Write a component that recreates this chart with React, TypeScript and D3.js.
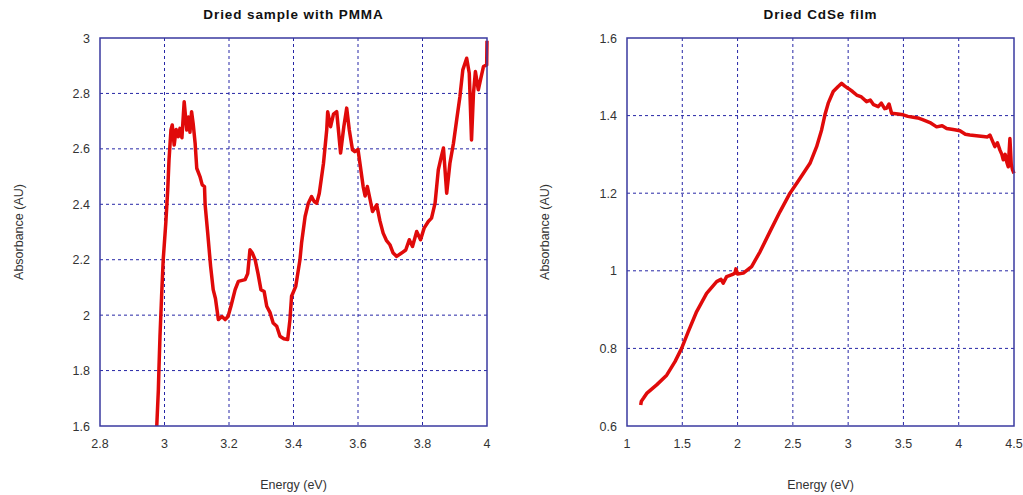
import * as d3 from "d3";
import { useEffect, useRef } from "react";

// Left panel: Dried sample with PMMA
const pmmaEnergy = [
  2.976, 2.981, 2.983, 2.986, 2.991, 2.996, 3.004, 3.010, 3.014, 3.020, 3.024, 3.030, 3.036, 3.043, 3.048,
  3.054, 3.061, 3.069, 3.074, 3.079, 3.084, 3.089, 3.095, 3.100, 3.110, 3.117, 3.124, 3.126, 3.134, 3.143,
  3.151, 3.158, 3.167, 3.178, 3.188, 3.197, 3.206, 3.219, 3.229, 3.25, 3.258, 3.265, 3.272, 3.281, 3.290,
  3.299, 3.309, 3.317, 3.327, 3.337, 3.348, 3.358, 3.370, 3.382, 3.389, 3.394, 3.407, 3.420, 3.425, 3.436,
  3.446, 3.456, 3.464, 3.472, 3.480, 3.493, 3.503, 3.506, 3.515, 3.524, 3.534, 3.546, 3.556, 3.565, 3.573,
  3.583, 3.590, 3.600, 3.606, 3.616, 3.622, 3.629, 3.637, 3.645, 3.658, 3.668, 3.678, 3.688, 3.699, 3.709,
  3.720, 3.735, 3.748, 3.759, 3.769, 3.782, 3.794, 3.805, 3.818, 3.828, 3.839, 3.849, 3.856, 3.865, 3.875,
  3.885, 3.896, 3.906, 3.916, 3.925, 3.937, 3.945, 3.952, 3.958, 3.964, 3.973, 3.981, 3.989, 3.999, 4.0,
];
const pmmaAbs = [
  1.60, 1.731, 1.815, 1.924, 2.068, 2.20, 2.332, 2.452, 2.56, 2.668, 2.686, 2.614, 2.670, 2.644, 2.674,
  2.640, 2.770, 2.668, 2.715, 2.660, 2.734, 2.690, 2.62, 2.53, 2.50, 2.47, 2.464, 2.398, 2.296, 2.176,
  2.092, 2.060, 1.984, 1.995, 1.984, 1.995, 2.032, 2.092, 2.122, 2.128, 2.150, 2.236, 2.225, 2.20, 2.150,
  2.092, 2.085, 2.032, 2.010, 1.972, 1.960, 1.924, 1.915, 1.912, 1.984, 2.068, 2.104, 2.20, 2.26, 2.356,
  2.404, 2.428, 2.41, 2.404, 2.44, 2.548, 2.668, 2.734, 2.68, 2.725, 2.734, 2.585, 2.680, 2.747, 2.668,
  2.596, 2.590, 2.598, 2.548, 2.464, 2.430, 2.464, 2.420, 2.374, 2.398, 2.340, 2.296, 2.270, 2.254, 2.224,
  2.212, 2.224, 2.235, 2.272, 2.248, 2.302, 2.272, 2.314, 2.338, 2.350, 2.404, 2.524, 2.560, 2.603, 2.44,
  2.548, 2.62, 2.705, 2.788, 2.885, 2.927, 2.873, 2.632, 2.80, 2.879, 2.813, 2.855, 2.897, 2.903, 2.99,
];

// Right panel: Dried CdSe film
const cdseEnergy = [
  1.124, 1.130, 1.150, 1.178, 1.268, 1.359, 1.434, 1.494, 1.554, 1.630, 1.720, 1.811, 1.850, 1.870, 1.901,
  1.950, 1.976, 1.985, 2.000, 2.052, 2.127, 2.203, 2.293, 2.383, 2.474, 2.564, 2.655, 2.715, 2.760, 2.790,
  2.820, 2.865, 2.910, 2.941, 2.970, 3.001, 3.040, 3.077, 3.120, 3.167, 3.200, 3.230, 3.272, 3.300, 3.330,
  3.348, 3.370, 3.393, 3.450, 3.498, 3.540, 3.589, 3.630, 3.679, 3.740, 3.800, 3.850, 3.891, 3.950, 4.011,
  4.060, 4.101, 4.160, 4.222, 4.260, 4.282, 4.300, 4.327, 4.350, 4.373, 4.390, 4.403, 4.420, 4.435, 4.448,
  4.463, 4.475, 4.487, 4.5,
];
const cdseAbs = [
  0.654, 0.664, 0.672, 0.684, 0.706, 0.731, 0.766, 0.80, 0.843, 0.895, 0.942, 0.972, 0.978, 0.968, 0.985,
  0.990, 0.994, 1.005, 0.992, 0.994, 1.011, 1.049, 1.101, 1.152, 1.20, 1.238, 1.277, 1.320, 1.363, 1.402,
  1.432, 1.462, 1.475, 1.483, 1.476, 1.470, 1.462, 1.453, 1.448, 1.436, 1.440, 1.428, 1.423, 1.432, 1.418,
  1.419, 1.430, 1.406, 1.404, 1.402, 1.398, 1.396, 1.394, 1.389, 1.382, 1.371, 1.374, 1.367, 1.364, 1.361,
  1.352, 1.350, 1.348, 1.346, 1.345, 1.350, 1.338, 1.320, 1.330, 1.311, 1.300, 1.286, 1.300, 1.280, 1.268,
  1.341, 1.275, 1.260, 1.251,
];

const pmmaXTicks = [2.8, 3, 3.2, 3.4, 3.6, 3.8, 4];
const pmmaYTicks = [1.6, 1.8, 2, 2.2, 2.4, 2.6, 2.8, 3];
const cdseXTicks = [1, 1.5, 2, 2.5, 3, 3.5, 4, 4.5];
const cdseYTicks = [0.6, 0.8, 1, 1.2, 1.4, 1.6];

const titles = ["Dried sample with PMMA", "Dried CdSe film"];
const xLabel = "Energy (eV)";
const yLabel = "Absorbance (AU)";

const width = 1023;
const height = 495;
const font = "'Liberation Sans', Arial, sans-serif";

interface PanelSpec {
  left: number;
  right: number;
  xDomain: [number, number];
  yDomain: [number, number];
  xTicks: number[];
  yTicks: number[];
  xs: number[];
  ys: number[];
  title: string;
  yLabelX: number;
  clipId: string;
}

const App = () => {
  const ref = useRef<SVGSVGElement>(null);

  useEffect(() => {
    if (!ref.current) return;
    const svg = d3.select(ref.current);
    svg.selectAll("*").remove();

    const top = 38;
    const bottom = 426;

    const panels: PanelSpec[] = [
      {
        left: 100, right: 487, xDomain: [2.8, 4], yDomain: [1.6, 3],
        xTicks: pmmaXTicks, yTicks: pmmaYTicks, xs: pmmaEnergy, ys: pmmaAbs,
        title: titles[0], yLabelX: 19, clipId: "clip-pmma",
      },
      {
        left: 627, right: 1014, xDomain: [1, 4.5], yDomain: [0.6, 1.6],
        xTicks: cdseXTicks, yTicks: cdseYTicks, xs: cdseEnergy, ys: cdseAbs,
        title: titles[1], yLabelX: 545, clipId: "clip-cdse",
      },
    ];

    panels.forEach((p) => {
      const x = d3.scaleLinear().domain(p.xDomain).range([p.left, p.right]);
      const y = d3.scaleLinear().domain(p.yDomain).range([bottom, top]);
      const g = svg.append("g");

      // dashed grid
      g.selectAll("line.vgrid")
        .data(p.xTicks.slice(1, -1))
        .enter()
        .append("line")
        .attr("x1", (d) => x(d)).attr("x2", (d) => x(d))
        .attr("y1", top).attr("y2", bottom)
        .attr("stroke", "#2626a6")
        .attr("stroke-width", 1)
        .attr("stroke-dasharray", "3,3");
      g.selectAll("line.hgrid")
        .data(p.yTicks.slice(1, -1))
        .enter()
        .append("line")
        .attr("x1", p.left).attr("x2", p.right)
        .attr("y1", (d) => y(d)).attr("y2", (d) => y(d))
        .attr("stroke", "#2626a6")
        .attr("stroke-width", 1)
        .attr("stroke-dasharray", "3,3");

      // curve
      svg.append("clipPath").attr("id", p.clipId)
        .append("rect")
        .attr("x", p.left).attr("y", top - 2)
        .attr("width", p.right - p.left + 2).attr("height", bottom - top + 2);

      const pts = p.xs.map((v, i) => [v, p.ys[i]] as [number, number]);
      const line = d3.line<[number, number]>()
        .x((d) => x(d[0]))
        .y((d) => y(d[1]));
      g.append("path")
        .attr("d", line(pts))
        .attr("fill", "none")
        .attr("stroke", "#e00a0a")
        .attr("stroke-width", 3.5)
        .attr("stroke-linejoin", "round")
        .attr("clip-path", `url(#${p.clipId})`);

      // frame
      g.append("rect")
        .attr("x", p.left).attr("y", top)
        .attr("width", p.right - p.left).attr("height", bottom - top)
        .attr("fill", "none")
        .attr("stroke", "#3a3aa0")
        .attr("stroke-width", 1.5);

      // tick labels
      g.selectAll("text.xt")
        .data(p.xTicks)
        .enter()
        .append("text")
        .attr("x", (d) => x(d))
        .attr("y", 448)
        .attr("text-anchor", "middle")
        .style("font-family", font)
        .style("font-size", "12.5px")
        .style("fill", "#333")
        .text((d) => String(d));
      g.selectAll("text.yt")
        .data(p.yTicks)
        .enter()
        .append("text")
        .attr("x", p.left - 10)
        .attr("y", (d) => y(d) + 4.5)
        .attr("text-anchor", "end")
        .style("font-family", font)
        .style("font-size", "12.5px")
        .style("fill", "#333")
        .text((d) => String(d));

      // titles and axis labels
      g.append("text")
        .attr("x", (p.left + p.right) / 2)
        .attr("y", 19)
        .attr("text-anchor", "middle")
        .style("font-family", font)
        .style("font-size", "13.5px")
        .style("font-weight", "bold")
        .style("letter-spacing", "0.9px")
        .style("fill", "#111")
        .text(p.title);
      g.append("text")
        .attr("x", (p.left + p.right) / 2)
        .attr("y", 489)
        .attr("text-anchor", "middle")
        .style("font-family", font)
        .style("font-size", "12.5px")
        .style("fill", "#333")
        .text(xLabel);
      g.append("text")
        .attr("transform", `translate(${p.yLabelX + 4}, 232) rotate(-90)`)
        .attr("text-anchor", "middle")
        .style("font-family", font)
        .style("font-size", "12.5px")
        .style("fill", "#333")
        .text(yLabel);
    });
  }, []);

  return (
    <svg
      ref={ref}
      width={width}
      height={height}
      style={{ position: "absolute", left: 0, top: 0, background: "#fff" }}
    ></svg>
  );
};

export default App;
